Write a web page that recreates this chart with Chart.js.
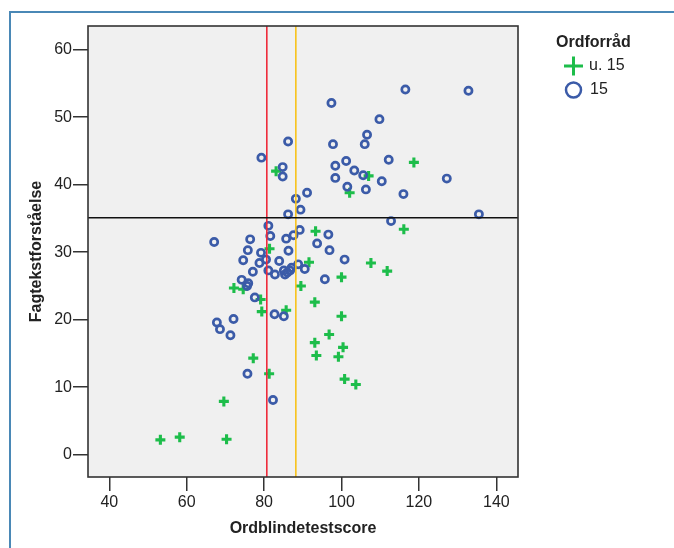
<!DOCTYPE html>
<html>
<head>
<meta charset="utf-8">
<script src="https://cdn.jsdelivr.net/npm/chart.js@4/dist/chart.umd.min.js"></script>
<style>
  body { margin: 0; background: #fff; }
  #wrap { position: relative; width: 674px; height: 548px; overflow: hidden; }
  #frame { position: absolute; left: 9px; top: 11px; width: 700px; height: 600px;
           border-left: 2px solid #4a88b6; border-top: 2px solid #4a88b6; }
  canvas { position: absolute; left: 0; top: 0; }
</style>
</head>
<body>
<div id="wrap">
  <div id="frame"></div>
  <canvas id="plot" width="674" height="548"></canvas>
</div>
<script>
// values
const seriesLabels = ['u. 15', '15']
const legendTitle = 'Ordforråd'
const xTitle = 'Ordblindetestscore'
const yTitle = 'Fagtekstforståelse'

const xTicks = [40, 60, 80, 100, 120, 140]
const yTicks = [0, 10, 20, 30, 40, 50, 60]
const xRange = [34.5, 145.6]
const yRange = [-3.3, 63.5]

// reference lines
const refX1 = 80.7
const refX2 = 88.2
const refY = 35.1

const underX = [83.1, 118.7, 107.0, 102.1, 93.3, 116.1, 81.4, 107.6, 111.8, 91.6, 100.0, 89.5, 93.1, 100.0, 96.8, 93.1,
  100.4, 93.5, 99.2, 100.8, 103.7, 72.2, 74.6, 79.1, 79.4, 85.7, 77.2, 81.3, 69.6, 53.2, 58.2, 70.3]
const underY = [42.0, 43.3, 41.3, 38.8, 33.1, 33.4, 30.5, 28.4, 27.2, 28.5, 26.3, 25.0, 22.6, 20.5, 17.8, 16.6,
  15.9, 14.7, 14.5, 11.2, 10.4, 24.7, 24.5, 23.0, 21.2, 21.4, 14.3, 12.0, 7.9, 2.2, 2.6, 2.3]

const fifteenX = [86.2, 79.3, 84.8, 84.8, 88.2, 91.1, 86.2, 89.4, 81.1, 81.6, 89.2, 85.7, 67.1, 76.4,
  116.5, 132.8, 97.4, 109.8, 106.6, 106.0, 97.8, 112.2, 101.2, 98.4, 103.3, 105.6, 98.4, 110.4, 127.2, 101.5,
  106.3, 116.0, 135.5, 112.8, 96.6, 93.7, 96.9, 100.8, 90.5, 95.7, 87.6, 75.8, 86.3, 79.2, 74.6, 78.8, 80.5,
  83.9, 77.1, 81.1, 82.8, 85.1, 86.0, 86.7, 85.4, 87.1, 88.8, 74.2, 75.9, 75.6, 77.6, 82.7, 85.1, 67.8, 68.6,
  72.1, 71.3, 75.7, 82.3]
const fifteenY = [46.4, 44.0, 42.6, 41.2, 37.9, 38.8, 35.6, 36.3, 33.9, 32.4, 33.3, 32.0, 31.5, 31.9,
  54.1, 53.9, 52.1, 49.7, 47.4, 46.0, 46.0, 43.7, 43.5, 42.8, 42.1, 41.4, 41.0, 40.5, 40.9, 39.7,
  39.3, 38.6, 35.6, 34.6, 32.6, 31.3, 30.3, 28.9, 27.5, 26.0, 32.5, 30.3, 30.2, 29.9, 28.8, 28.4, 28.9,
  28.7, 27.1, 27.3, 26.7, 27.3, 27.0, 27.3, 26.7, 27.7, 28.2, 25.9, 25.4, 25.0, 23.3, 20.8, 20.5, 19.6, 18.6,
  20.1, 17.7, 12.0, 8.1]

const green = '#1dbd4a'
const blue = '#3b5ba8'
const font = '"Liberation Sans", Arial, sans-serif'

function pts(xs, ys) {
  return xs.map((x, i) => ({ x: x, y: ys[i] }))
}

// grey plot area with dark frame
const areaBox = {
  id: 'areaBox',
  beforeDraw(chart) {
    const { ctx, chartArea: a } = chart
    ctx.save()
    ctx.fillStyle = '#f0f0f0'
    ctx.fillRect(a.left, a.top, a.right - a.left, a.bottom - a.top)
    ctx.restore()
  },
  afterDraw(chart) {
    const { ctx, chartArea: a } = chart
    ctx.save()
    ctx.strokeStyle = '#333'
    ctx.lineWidth = 1.6
    ctx.strokeRect(a.left, a.top, a.right - a.left, a.bottom - a.top)
    ctx.restore()
  }
}

// legend on the right, drawn by hand
const sideLegend = {
  id: 'sideLegend',
  afterDraw(chart) {
    const ctx = chart.ctx
    ctx.save()
    ctx.textBaseline = 'middle'
    ctx.textAlign = 'left'
    ctx.fillStyle = '#222'
    ctx.font = 'bold 16px ' + font
    ctx.fillText(legendTitle, 556, 43)
    ctx.font = '16px ' + font
    // plus
    ctx.strokeStyle = green
    ctx.lineWidth = 3
    ctx.beginPath()
    ctx.moveTo(564, 66); ctx.lineTo(583, 66)
    ctx.moveTo(573.5, 56.5); ctx.lineTo(573.5, 75.5)
    ctx.stroke()
    ctx.fillText(chart.data.datasets[0].label, 589, 66)
    // circle
    ctx.strokeStyle = blue
    ctx.lineWidth = 2.5
    ctx.beginPath()
    ctx.arc(573.5, 90, 7.5, 0, Math.PI * 2)
    ctx.stroke()
    ctx.fillText(chart.data.datasets[1].label, 590, 90)
    ctx.restore()
  }
}

const ctx = document.getElementById('plot')

const chart = new Chart(ctx, {
  type: 'scatter',
  data: {
    datasets: [{
      label: seriesLabels[0],
      data: pts(underX, underY),
      pointStyle: 'cross',
      pointRadius: 5,
      pointBorderWidth: 3.1,
      borderColor: green,
      backgroundColor: green,
      order: 2,
    }, {
      label: seriesLabels[1],
      data: pts(fifteenX, fifteenY),
      pointStyle: 'circle',
      pointRadius: 3.6,
      pointBorderWidth: 2.7,
      borderColor: blue,
      backgroundColor: 'rgba(0,0,0,0)',
      order: 1,
    }, {
      type: 'line',
      label: 'refY',
      data: [{ x: xRange[0], y: refY }, { x: xRange[1], y: refY }],
      borderColor: '#111',
      borderWidth: 1.3,
      pointRadius: 0,
      order: 0,
    }, {
      type: 'line',
      label: 'refX1',
      data: [{ x: refX1, y: yRange[0] }, { x: refX1, y: yRange[1] }],
      borderColor: '#ee2a3a',
      borderWidth: 1.6,
      pointRadius: 0,
      order: 0,
    }, {
      type: 'line',
      label: 'refX2',
      data: [{ x: refX2, y: yRange[0] }, { x: refX2, y: yRange[1] }],
      borderColor: '#f7c21a',
      borderWidth: 1.6,
      pointRadius: 0,
      order: 0,
    }]
  },
  options: {
    responsive: false,
    animation: false,
    devicePixelRatio: 1,
    layout: { padding: { left: 0, top: 26, right: 156, bottom: 0 } },
    plugins: {
      legend: { display: false },
      tooltip: { enabled: false },
    },
    scales: {
      x: {
        type: 'linear',
        min: xRange[0],
        max: xRange[1],
        afterBuildTicks: (s) => { s.ticks = xTicks.map(v => ({ value: v })) },
        afterFit: (s) => { s.height = 71 },
        border: { display: false },
        grid: { drawOnChartArea: false, drawTicks: true, tickLength: 14, tickColor: '#333', lineWidth: 1.5 },
        ticks: { color: '#222', padding: 2, font: { family: font, size: 16 } },
        title: {
          display: true, text: xTitle, color: '#222',
          font: { family: font, size: 16, weight: 'bold' },
          padding: { top: 0, bottom: 9.4 }
        }
      },
      y: {
        type: 'linear',
        min: yRange[0],
        max: yRange[1],
        afterBuildTicks: (s) => { s.ticks = yTicks.map(v => ({ value: v })) },
        afterFit: (s) => { s.width = 88 },
        border: { display: false },
        grid: { drawOnChartArea: false, drawTicks: true, tickLength: 15, tickColor: '#333', lineWidth: 1.5 },
        ticks: { color: '#222', padding: 1, font: { family: font, size: 16 } },
        title: {
          display: true, text: yTitle, color: '#222',
          font: { family: font, size: 16, weight: 'bold' },
          padding: { top: 27.4, bottom: 0 }
        }
      }
    }
  },
  plugins: [areaBox, sideLegend]
})
</script>
</body>
</html>
